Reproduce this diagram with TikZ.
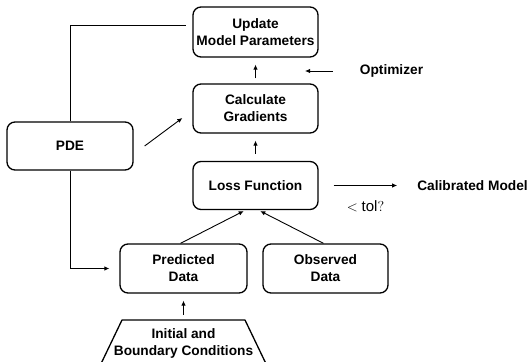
\documentclass[tikz,border=0pt]{standalone}
\usepackage{fontspec}
\setmainfont{Liberation Sans}
\usetikzlibrary{arrows.meta,calc}
\begin{document}
\begin{tikzpicture}[x=1pt,y=1pt,
  box/.style={draw,line width=1.3pt,rounded corners=8pt,inner sep=0pt,align=center},
  lbl/.style={font=\fontsize{13.7}{17}\selectfont\bfseries},
  arr/.style={line width=0.9pt,-{Latex[length=5pt,width=4.5pt]}},
  ln/.style={line width=0.9pt}]
\useasboundingbox (0,0) rectangle (532,361);
\node[box,lbl,minimum width=125pt,minimum height=50pt] (upd) at (255.5,329) {Update\\Model Parameters};
\node[box,lbl,minimum width=125pt,minimum height=49pt] (calc) at (255.5,252.5) {Calculate\\Gradients};
\node[box,lbl,minimum width=125pt,minimum height=48pt] (loss) at (255.5,175.5) {Loss Function};
\node[box,lbl,minimum width=126pt,minimum height=48pt] (pde) at (70,215) {PDE};
\node[box,lbl,minimum width=127pt,minimum height=49pt] (pred) at (183.5,92.5) {Predicted\\Data};
\node[box,lbl,minimum width=125pt,minimum height=49pt] (obs) at (325.5,92.5) {Observed\\Data};
\node[lbl,inner sep=0pt,align=center] (ibc) at (183.5,17.5) {Initial and\\Boundary Conditions};
\draw[line width=1.3pt,line join=round] (122,41) -- (245,41) -- (269,-9) -- (98,-9) -- cycle;
\coordinate (ibctop) at (183.5,41);
\node[lbl,inner sep=0pt] (opt) at (391.5,290) {Optimizer};
\coordinate (optend) at (305,290);
\node[lbl,inner sep=0pt] (cal) at (472.5,175.5) {Calibrated Model};
\node[inner sep=0pt,font=\fontsize{15}{18}\selectfont] (tol) at (365.5,155) {$<\mathrm{tol}?$};
% connectors
\draw[ln,shorten >=6pt] (pde.north) |- ([yshift=7pt]upd.west);
\draw[arr,shorten >=10pt] (pde.south) |- (pred.west);
\draw[arr] ([xshift=11pt]pde.east) -- ([xshift=-10pt,yshift=-9.5pt]calc.west);
\draw[arr,shorten <=5pt,shorten >=7pt] (calc.north) -- (upd.south);
\draw[arr,shorten <=7pt,shorten >=7pt] (loss.north) -- (calc.south);
\draw[arr,shorten <=27pt] (opt.west) -- (optend);
\draw[arr,shorten <=15pt,shorten >=20pt] (loss.east) -- (cal.west);
\draw[arr,shorten >=2pt] ([xshift=-3pt]pred.north) -- ([xshift=-10pt]loss.south);
\draw[arr,shorten >=2pt] ([xshift=-2pt]obs.north) -- ([xshift=3pt]loss.south);
\draw[arr,shorten <=5pt,shorten >=7pt] (ibctop) -- (pred.south);
\end{tikzpicture}
\end{document}
